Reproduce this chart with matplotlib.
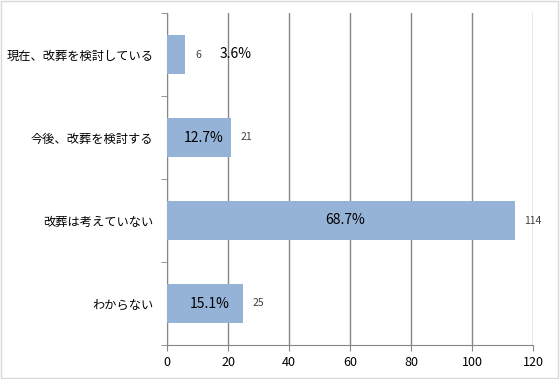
import matplotlib.pyplot as plt
from matplotlib.patches import Rectangle

plt.rcParams['font.family'] = ['Noto Sans CJK JP', 'DejaVu Sans']

categories = ["現在、改葬を検討している", "今後、改葬を検討する", "改葬は考えていない", "わからない"]
counts = [6, 21, 114, 25]
percents = ["3.6%", "12.7%", "68.7%", "15.1%"]

bar_color = "#95B3D7"
grid_color = "#868686"

fig = plt.figure(figsize=(5.6, 3.79), dpi=100)
ax = fig.add_axes([167 / 560, 1 - 345 / 379, 366 / 560, 332 / 379])

y = list(range(len(categories)))
ax.barh(y, counts, height=0.47, color=bar_color, zorder=3)

ax.set_xlim(0, 120)
ax.set_ylim(len(categories) - 0.5, -0.5)
ax.set_xticks(range(0, 121, 20))
ax.set_yticks(y)
ax.set_yticklabels(categories, fontsize=8.8)

# category boundary ticks on the vertical axis
ax.set_yticks([i - 0.5 for i in range(len(categories) + 1)], minor=True)
ax.tick_params(axis="y", which="major", length=0, pad=10)
ax.tick_params(axis="y", which="minor", length=4, color=grid_color, direction="out")
ax.tick_params(axis="x", length=4, color=grid_color, labelsize=9, pad=4)

ax.grid(axis="x", color=grid_color, linewidth=1, zorder=0)
for s in ["top", "right"]:
    ax.spines[s].set_visible(False)
for s in ["left", "bottom"]:
    ax.spines[s].set_color(grid_color)

for i, (c, p) in enumerate(zip(counts, percents)):
    ax.annotate(str(c), (c, i), xytext=(7, 0), textcoords="offset points",
                va="center", ha="left", fontsize=7.5, color="#404040", zorder=4)
    if c > 10:
        ax.text(c / 2 + 1.5, i, p, ha="center", va="center", fontsize=10, zorder=4)
    else:
        ax.text(22.5, i, p, ha="center", va="center", fontsize=10, zorder=4)

fig.patches.append(Rectangle((0.002, 0.003), 0.995, 0.994, transform=fig.transFigure,
                             fill=False, edgecolor="#D9D9D9", linewidth=1))

fig.savefig("out.png", dpi=100)
